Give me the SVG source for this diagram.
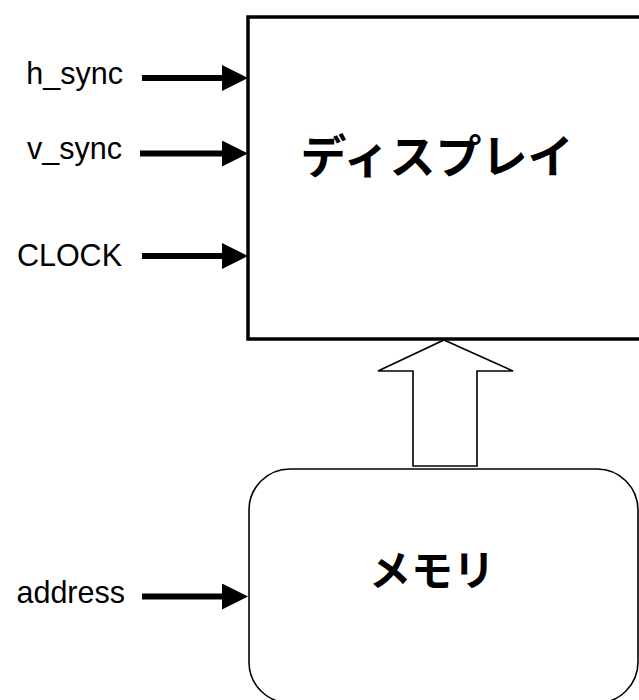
<svg xmlns="http://www.w3.org/2000/svg" width="639" height="700" viewBox="0 0 639 700">
  <style>
    .sig { font-family: "Liberation Sans", Arial, sans-serif; font-size: 30.5px; fill: #000; text-anchor: end; }
    .title { font-family: "Noto Sans CJK JP", "Noto Sans CJK SC", sans-serif; font-size: 46px; font-weight: bold; fill: #000; text-anchor: middle; }
    .wire { stroke: #000; stroke-width: 6; fill: none; marker-end: url(#head); }
  </style>
  <defs>
    <marker id="head" markerUnits="userSpaceOnUse" markerWidth="26" markerHeight="26" refX="2" refY="13" orient="auto">
      <path d="M0,0 L26,13 L0,26 Z" fill="#000"/>
    </marker>
  </defs>
  <rect width="639" height="700" fill="#fff"/>

  <!-- display block -->
  <g id="display">
    <rect x="248" y="17" width="420" height="322" fill="#fff" stroke="#000" stroke-width="3.5"/>
    <text class="title" x="437" y="173">ディスプレイ</text>
  </g>

  <!-- memory block -->
  <g id="memory">
    <rect x="249" y="469" width="389" height="234" rx="41" ry="41" fill="#fff" stroke="#000" stroke-width="1.6"/>
    <text class="title" x="432" y="586" style="font-size:42px">メモリ</text>
  </g>

  <!-- signal labels -->
  <g id="labels">
    <text class="sig" x="123" y="84">h_sync</text>
    <text class="sig" x="122" y="159">v_sync</text>
    <text class="sig" x="122" y="266">CLOCK</text>
    <text class="sig" x="125" y="603">address</text>
  </g>

  <g id="connectors">
    <line class="wire" x1="142" y1="78" x2="224" y2="78"/>
    <line class="wire" x1="140" y1="153.5" x2="224" y2="153.5"/>
    <line class="wire" x1="142" y1="256" x2="224" y2="256"/>
    <line class="wire" x1="142" y1="596.5" x2="224" y2="596.5"/>
    <!-- data bus from memory up to display -->
    <polygon points="444,340 513,371 477,371 477,466 413,466 413,371 378,371" fill="#fff" stroke="#000" stroke-width="1.6" stroke-linejoin="miter"/>
  </g>
</svg>
